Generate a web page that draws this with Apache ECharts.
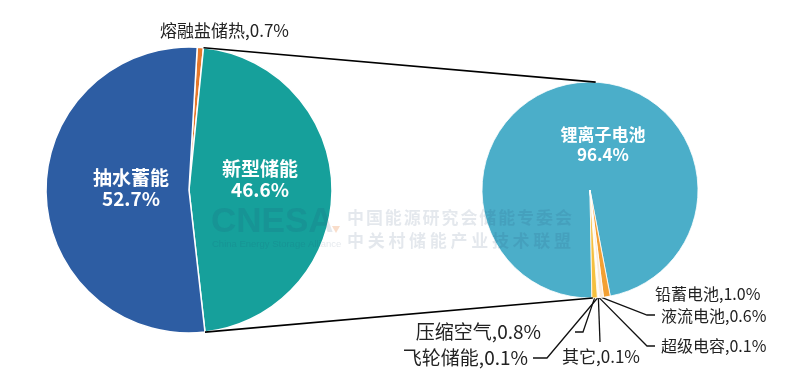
<!DOCTYPE html>
<html><head><meta charset="utf-8">
<script src="https://cdn.jsdelivr.net/npm/echarts@6/dist/echarts.min.js"></script>
<style>html,body{margin:0;padding:0;background:#fff}#c{width:800px;height:385px}</style>
</head><body><div id="c"></div>
<script>
// ---- data ----
const leftNames = ['熔融盐储热', '新型储能', '抽水蓄能'];
const leftValues = [0.7, 46.6, 52.7];
const rightNames = ['锂离子电池', '铅蓄电池', '液流电池', '超级电容', '其它', '飞轮储能', '压缩空气'];
const rightValues = [96.4, 1.0, 0.6, 0.1, 0.1, 0.1, 0.8];

// ---- styles / layout ----
const leftColors = ['#E6782A', '#16A09B', '#2D5DA3'];
const rightColors = ['#4BAEC9', '#F3A033', '#FBEBD8', '#F19A9A', '#FFF4D8', '#F7D36A', '#F5C03F'];
const FONT = '"Noto Sans CJK SC", "Noto Sans", sans-serif';
const L = { cx: 189, cy: 190, r: 143, start: 3.3 };   // start: degrees clockwise from top
const R = { cx: 590, cy: 190, r: 108, start: 179 };

const leftLabelPos = [
  { x: 160, y: 31, align: 'left' },
  { x: 260, y: 179, align: 'center' },
  { x: 131, y: 188, align: 'center' }
];
const rightLabelPos = [
  { x: 603, y: 145, align: 'center' },
  { x: 655, y: 294, align: 'left' },
  { x: 661, y: 316, align: 'left', line: [[647, 315], [655, 315]], fs: 16 },
  { x: 661, y: 346, align: 'left', line: [[647, 346], [655, 346]], fs: 16 },
  { x: 601, y: 357, align: 'center', line: [[600, 342]], fs: 17 },
  { x: 528, y: 358, align: 'right', line: [[547, 358], [533, 358]], fs: 19 },
  { x: 541, y: 332, align: 'right', line: [[583, 332], [575, 332]], fs: 19 }
];

function pt(c, deg) {
  const a = deg * Math.PI / 180;
  return [c.cx + c.r * Math.sin(a), c.cy - c.r * Math.cos(a)];
}

const leftData = leftNames.map((n, i) => {
  const inside = i > 0;
  return {
    name: n, value: leftValues[i],
    itemStyle: { color: leftColors[i] },
    label: inside ? {
      position: 'inside', color: '#fff', fontWeight: 'bold', fontSize: 19, lineHeight: 21,
      formatter: p => p.name + '\n' + p.value.toFixed(1) + '%'
    } : {
      position: 'outside', color: '#222', fontSize: 17,
      formatter: p => p.name + ',' + p.value.toFixed(1) + '%'
    },
    labelLine: { show: false }
  };
});

const rightData = rightNames.map((n, i) => {
  const inside = i === 0;
  const pos = rightLabelPos[i];
  return {
    name: n, value: rightValues[i],
    itemStyle: { color: rightColors[i] },
    label: inside ? {
      position: 'inside', color: '#fff', fontWeight: 'bold', fontSize: 17, lineHeight: 20,
      formatter: p => p.name + '\n' + p.value.toFixed(1) + '%'
    } : {
      position: 'outside', color: '#222', fontSize: pos.fs || 16,
      formatter: p => p.name + ',' + p.value.toFixed(1) + '%'
    },
    labelLine: { show: !!pos.line, length: 10, length2: 10, lineStyle: { color: '#111', width: 1.3 } }
  };
});

function mkLayout(posArr) {
  return function (params) {
    const p = posArr[params.dataIndex];
    const res = { x: p.x, y: p.y, align: p.align, verticalAlign: 'middle', hideOverlap: false };
    if (p.line && params.labelLinePoints && params.labelLinePoints[0]) {
      res.labelLinePoints = [params.labelLinePoints[0]].concat(p.line);
    }
    return res;
  };
}

// connector lines between the pies (computed from pie geometry)
const lTop = pt(L, L.start + leftValues[0] * 3.6);
const lBot = pt(L, L.start + (leftValues[0] + leftValues[1]) * 3.6);
const rTop = pt(R, 3);
const rBot = pt(R, 178.5);

// watermark
const wm = [];
const wmColor = '#1f3f6f';
wm.push({ type: 'text', silent: true, z: 100, style: { text: 'CNESA', x: 211, y: 222, verticalAlign: 'middle', font: 'bold 35px "Liberation Sans", Arial, sans-serif', fill: wmColor, opacity: 0.12 } });
wm.push({ type: 'text', silent: true, z: 100, style: { text: 'China Energy Storage Alliance', x: 212, y: 244, verticalAlign: 'middle', font: '9.5px "Liberation Sans", Arial, sans-serif', fill: wmColor, opacity: 0.12 } });
wm.push({ type: 'polygon', silent: true, z: 100, shape: { points: [[332, 226], [340, 226], [336, 233]] }, style: { fill: '#E6782A', opacity: 0.25 } });
const wmLine1 = '中国能源研究会储能专委会';
const wmLine2 = '中关村储能产业技术联盟';
Array.from(wmLine1).forEach((ch, i) => wm.push({ type: 'text', silent: true, z: 100, style: { text: ch, x: 347 + i * 18.9, y: 218, verticalAlign: 'middle', font: 'bold 17px ' + FONT, fill: wmColor, opacity: 0.12 } }));
Array.from(wmLine2).forEach((ch, i) => wm.push({ type: 'text', silent: true, z: 100, style: { text: ch, x: 347 + i * 20.7, y: 241, verticalAlign: 'middle', font: 'bold 17px ' + FONT, fill: wmColor, opacity: 0.12 } }));

const chart = echarts.init(document.getElementById('c'), null, { renderer: 'canvas' });
chart.setOption({
  backgroundColor: '#fff',
  textStyle: { fontFamily: FONT },
  animation: false,
  series: [
    {
      type: 'pie', center: [L.cx, L.cy], radius: L.r, startAngle: 90 - L.start, clockwise: true,
      avoidLabelOverlap: false, data: leftData,
      itemStyle: { borderColor: '#fff', borderWidth: 1.5 },
      labelLayout: mkLayout(leftLabelPos)
    },
    {
      type: 'pie', center: [R.cx, R.cy], radius: R.r, startAngle: 90 - R.start, clockwise: true,
      avoidLabelOverlap: false, data: rightData,
      itemStyle: { borderColor: '#fff', borderWidth: 0.8 },
      labelLayout: mkLayout(rightLabelPos)
    }
  ],
  graphic: [
    { type: 'line', silent: true, z: 50, shape: { x1: lTop[0], y1: lTop[1], x2: rTop[0], y2: rTop[1] }, style: { stroke: '#000', lineWidth: 1.6 } },
    { type: 'line', silent: true, z: 50, shape: { x1: lBot[0], y1: lBot[1], x2: rBot[0], y2: rBot[1] }, style: { stroke: '#000', lineWidth: 1.6 } }
  ].concat(wm)
});
</script>
</body></html>
